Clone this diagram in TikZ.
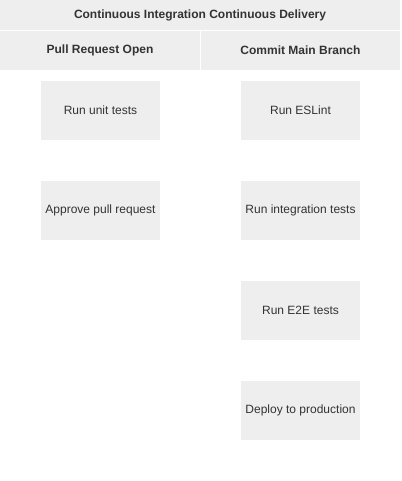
\documentclass[tikz,border=0pt]{standalone}
\usepackage{fontspec}
\setmainfont{Liberation Sans}
\definecolor{cellgray}{HTML}{EEEEEE}
\definecolor{txt}{HTML}{333333}
\begin{document}
\begin{tikzpicture}[x=1pt,y=-1pt,
  hdr/.style={fill=cellgray,draw=none,inner sep=0pt,font=\fontsize{12}{14}\selectfont\bfseries,text=txt},
  stepbox/.style={fill=cellgray,draw=none,inner sep=0pt,minimum width=119pt,minimum height=59pt,font=\fontsize{12}{14}\selectfont,text=txt}]
\useasboundingbox[fill=white] (0,0) rectangle (401,481);
\node[hdr,minimum width=400pt,minimum height=30pt] (title) at (200,15) {Continuous Integration Continuous Delivery};
\node[hdr,minimum width=200pt,minimum height=39pt] (pr) at (100,50.5) {Pull Request Open};
\node[hdr,minimum width=199pt,minimum height=39pt] (cm) at (300.5,50.5) {Commit Main Branch};
\node[stepbox] (unit) at (100.5,110.5) {Run unit tests};
\node[stepbox] (approve) at (100.5,210.5) {Approve pull request};
\node[stepbox] (eslint) at (300.5,110.5) {Run ESLint};
\node[stepbox] (integ) at (300.5,210.5) {Run integration tests};
\node[stepbox] (e2e) at (300.5,310.5) {Run E2E tests};
\node[stepbox] (deploy) at (300.5,410.5) {Deploy to production};
\end{tikzpicture}
\end{document}
